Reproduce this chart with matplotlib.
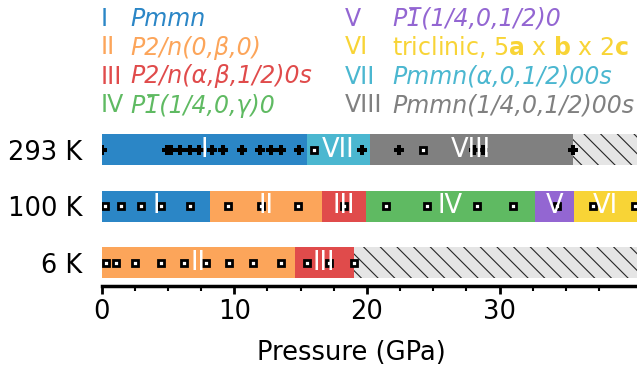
import matplotlib
matplotlib.use('Agg')
import matplotlib.pyplot as plt

plt.rcParams['mathtext.fontset'] = 'dejavusans'
plt.rcParams['hatch.linewidth'] = 0.8

# phase colours
colors = {
    "I": "#2b86c6",
    "II": "#fca55a",
    "III": "#e04b4b",
    "IV": "#5fba62",
    "V": "#9366d2",
    "VI": "#f8d436",
    "VII": "#4bb7d0",
    "VIII": "#808080",
}
NA_COLOR = "#e5e5e5"

XMAX = 40.35

# rows (top to bottom)
temps = ["293 K", "100 K", "6 K"]
row_y = [2, 1, 0]

# phase sequences and boundaries (GPa); None = not measured (hatched)
phases_293 = ["I", "VII", "VIII", None]
bounds_293 = [0, 15.5, 20.2, 35.5, XMAX]
phases_100 = ["I", "II", "III", "IV", "V", "VI"]
bounds_100 = [0, 8.2, 16.6, 19.9, 32.7, 35.6, XMAX]
phases_6 = ["II", "III", None]
bounds_6 = [0, 14.55, 19.0, XMAX]

# measured pressures
p293_plus = [0.05, 4.95, 5.2, 5.95, 6.65, 7.35, 8.35, 9.15, 10.6, 11.95,
             12.75, 13.5, 14.9, 19.65, 22.4, 28.1, 28.75, 35.5]
p293_square = [16.0, 24.2]
p100_square = [0.3, 1.5, 2.95, 4.5, 6.65, 9.5, 12.0, 14.8, 18.25, 21.45,
               24.5, 28.3, 31.0, 34.3, 37.0, 40.2]
p6_square = [0.35, 1.1, 2.55, 4.5, 6.2, 7.9, 9.6, 11.4, 13.5, 15.5, 17.15, 19.0]

# legend entries (numeral, label, italic?)
legend_left = [
    ("I", "Pmmn", True),
    ("II", "P2/n(0,β,0)", True),
    ("III", "P2/n(α,β,1/2)0s", True),
    ("IV", "P1\u0305(1/4,0,γ)0", True),
]
legend_right = [
    ("V", "P1\u0305(1/4,0,1/2)0", True),
    ("VI", r"triclinic, 5$\mathbf{a}$ x $\mathbf{b}$ x 2$\mathbf{c}$", False),
    ("VII", "Pmmn(α,0,1/2)00s", True),
    ("VIII", "Pmmn(1/4,0,1/2)00s", True),
]

W, H = 637, 372
fig = plt.figure(figsize=(W / 100, H / 100), dpi=100)
ax = fig.add_axes([101.5 / W, (H - 286) / H, (W - 101.5) / W, (286 - 121.75) / H])

FS = 18.5
BAR_H = 0.55

rows = [(phases_293, bounds_293), (phases_100, bounds_100), (phases_6, bounds_6)]
for y, (phases, bounds) in zip(row_y, rows):
    for ph, x0, x1 in zip(phases, bounds[:-1], bounds[1:]):
        if ph is None:
            ax.barh(y, x1 - x0, left=x0, height=BAR_H, color=NA_COLOR,
                    edgecolor="0.15", linewidth=0, hatch="\\\\", zorder=1)
        else:
            ax.barh(y, x1 - x0, left=x0, height=BAR_H, color=colors[ph],
                    linewidth=0, zorder=1)
            ax.text((x0 + x1) / 2, y, ph, color="white", fontsize=FS,
                    ha="center", va="center", zorder=4)

sq = dict(marker="s", ms=5, mfc="white", mec="black", mew=2, ls="none", zorder=3)
ax.plot(p293_plus, [row_y[0]] * len(p293_plus), marker="P", ms=6.5, color="black",
        mew=0, ls="none", zorder=3)
ax.plot(p293_square, [row_y[0]] * len(p293_square), **sq)
ax.plot(p100_square, [row_y[1]] * len(p100_square), **sq)
ax.plot(p6_square, [row_y[2]] * len(p6_square), **sq)

ax.set_xlim(0, XMAX)
ax.set_ylim(-0.417, 2.5)
ax.set_xticks([0, 10, 20, 30])
ax.set_xticks([2.5, 5, 7.5, 12.5, 15, 17.5, 22.5, 25, 27.5, 32.5, 35, 37.5], minor=True)
ax.set_yticks(row_y, temps)
ax.tick_params(axis="y", length=0, pad=14, labelsize=FS)
ax.tick_params(axis="x", which="major", length=6, width=2, pad=3.5, labelsize=FS)
ax.tick_params(axis="x", which="minor", length=3.5, width=1.5)
for s in ["top", "right", "left"]:
    ax.spines[s].set_visible(False)
ax.spines["bottom"].set_linewidth(2.5)
ax.set_xlabel("Pressure (GPa)", fontsize=FS)
ax.xaxis.set_label_coords(0.466, -0.33)

# legend drawn as coloured text
LFS = 17
baselines = [25.5, 54.5, 83.5, 112.5]
for entries, x_num, x_txt in [(legend_left, 101, 130), (legend_right, 345, 392)]:
    for (num, label, italic), yb in zip(entries, baselines):
        c = colors[num]
        fig.text(x_num / W, 1 - yb / H, num, color=c, fontsize=LFS, va="baseline")
        fig.text(x_txt / W, 1 - yb / H, label, color=c, fontsize=LFS, va="baseline",
                 style="italic" if italic else "normal")

fig.savefig("out.png", dpi=100)
